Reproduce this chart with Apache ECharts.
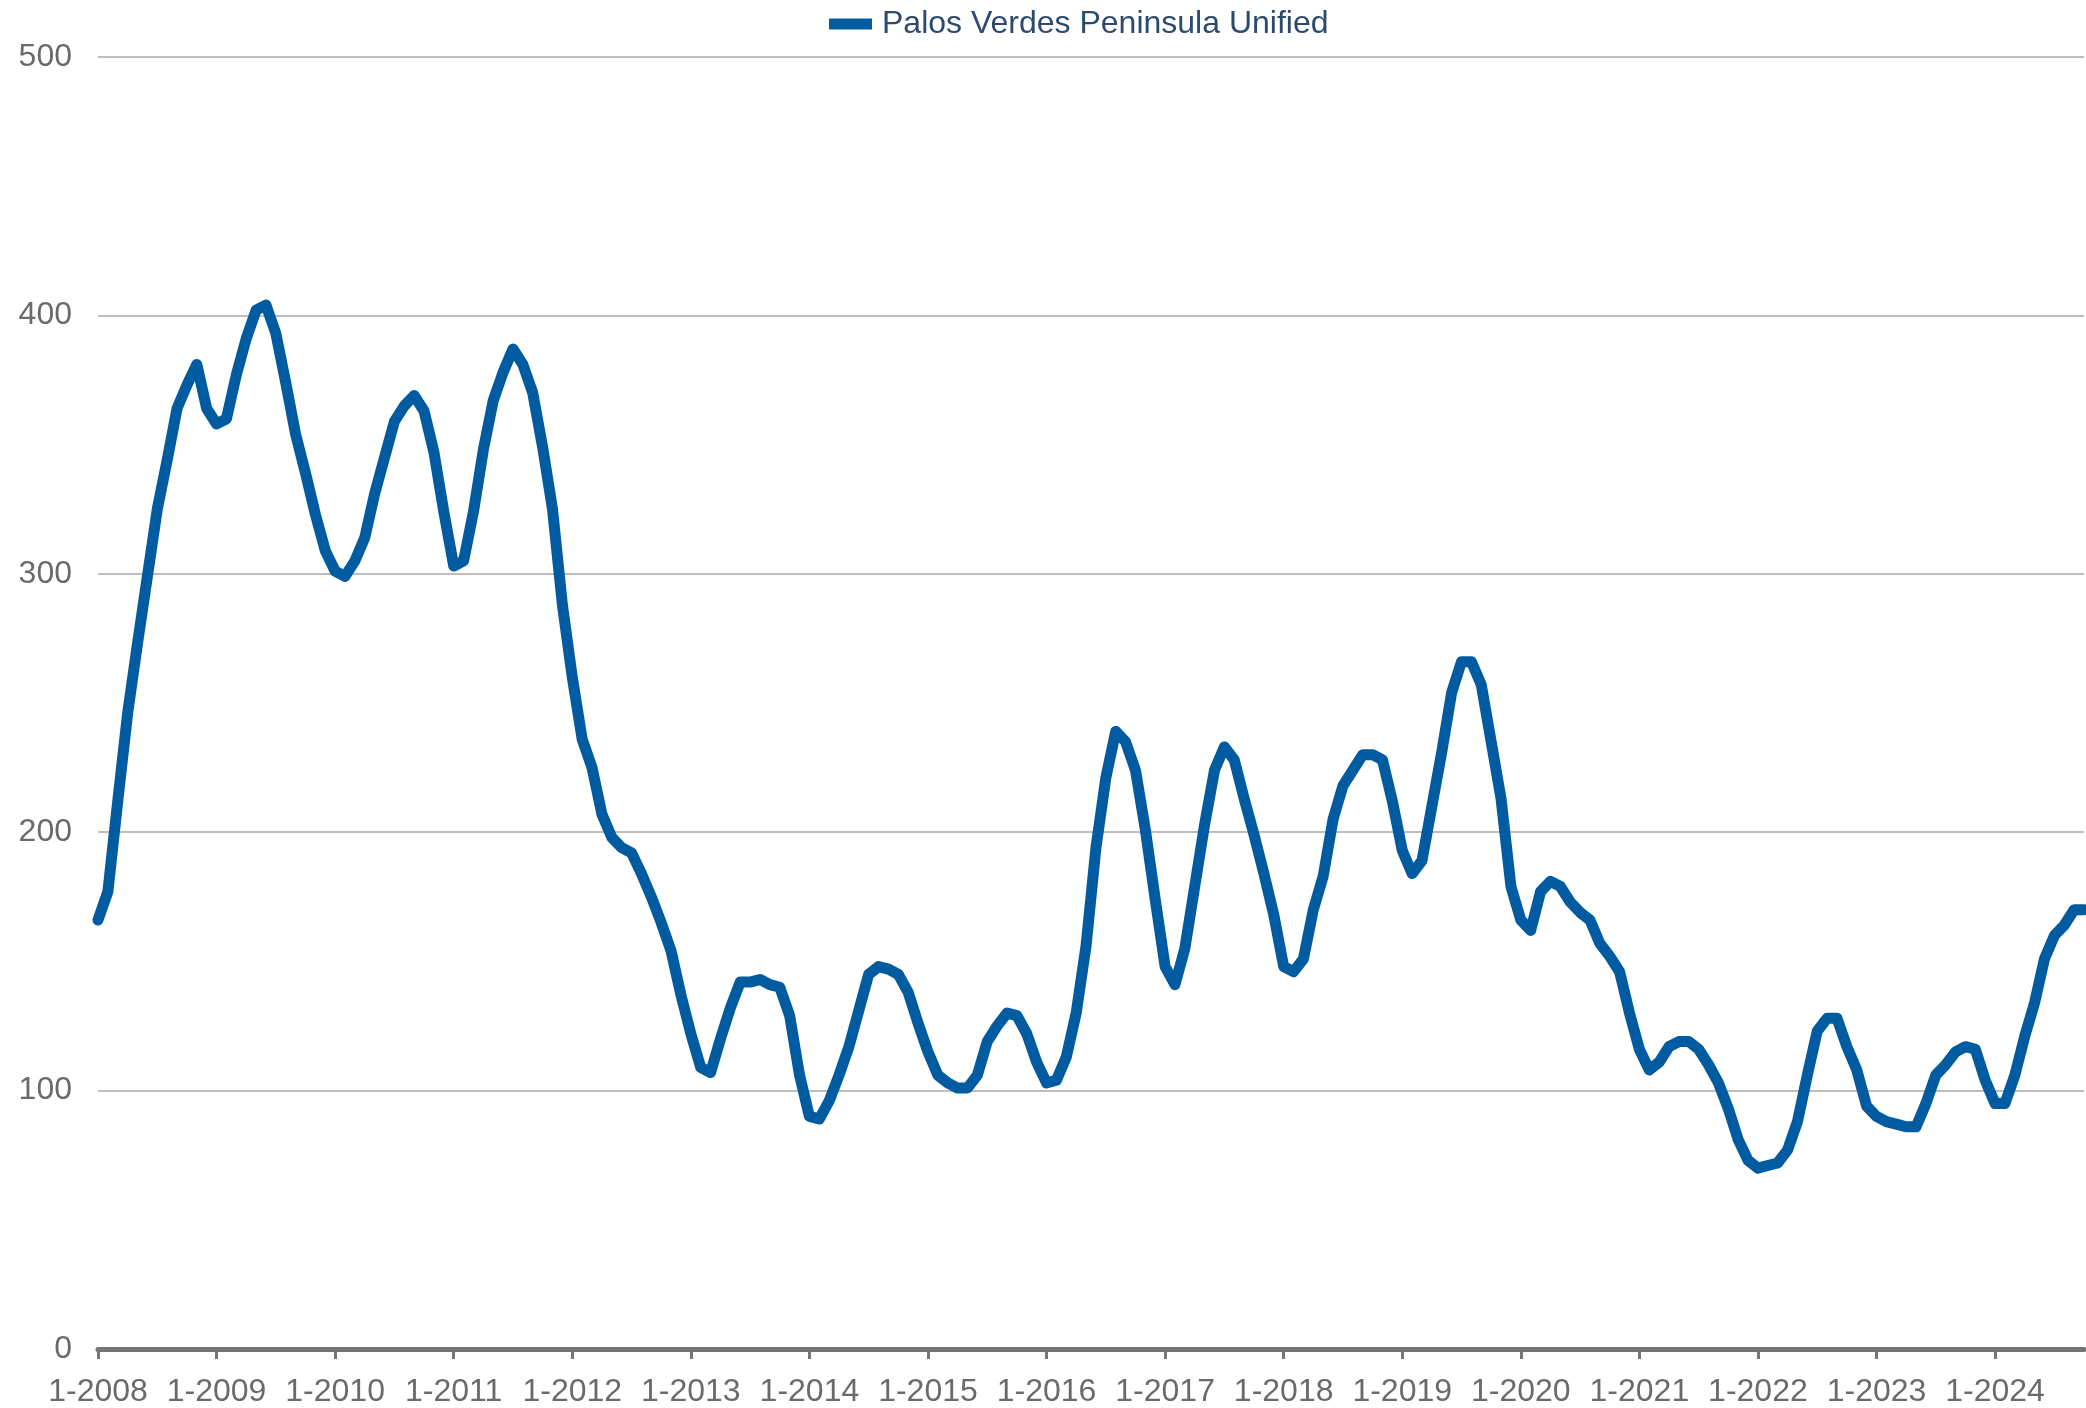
<!DOCTYPE html>
<html>
<head>
<meta charset="utf-8">
<script src="https://cdn.jsdelivr.net/npm/echarts@6/dist/echarts.min.js"></script>
<style>
  html, body { margin: 0; padding: 0; background: #ffffff; }
  #chart { width: 2086px; height: 1408px; }
</style>
</head>
<body>
<div id="chart"></div>
<script>
// Series name
const seriesName = 'Palos Verdes Peninsula Unified';

// Monthly categories from 1-2008 through 10-2024
const startYear = 2008;
const monthCount = 202;
const categories = [];
for (let i = 0; i < monthCount; i++) {
  categories.push((i % 12 + 1) + '-' + (startYear + Math.floor(i / 12)));
}

// Values, by year (Jan..Dec)
const v2008 = [166, 177, 212, 246, 273, 299, 325, 344, 364, 373, 381, 364];
const v2009 = [358, 360, 377, 391, 402, 404, 393, 374, 354, 339, 323, 309];
const v2010 = [301, 299, 305, 314, 331, 345, 359, 365, 369, 363, 347, 324];
const v2011 = [303, 305, 324, 348, 367, 378, 387, 381, 370, 349, 325, 288];
const v2012 = [260, 236, 225, 207, 198, 194, 192, 184, 175, 165, 154, 137];
const v2013 = [122, 109, 107, 120, 132, 142, 142, 143, 141, 140, 129, 106];
const v2014 = [90, 89, 96, 106, 117, 131, 145, 148, 147, 145, 138, 126];
const v2015 = [115, 106, 103, 101, 101, 106, 119, 125, 130, 129, 122, 111];
const v2016 = [103, 104, 113, 130, 156, 194, 221, 239, 235, 224, 201, 174];
const v2017 = [148, 141, 155, 179, 203, 224, 233, 228, 213, 199, 184, 168];
const v2018 = [148, 146, 151, 170, 183, 205, 218, 224, 230, 230, 228, 212];
const v2019 = [193, 184, 189, 210, 231, 254, 266, 266, 257, 235, 213, 179];
const v2020 = [166, 162, 177, 181, 179, 173, 169, 166, 157, 152, 146, 130];
const v2021 = [116, 108, 111, 117, 119, 119, 116, 110, 103, 93, 81, 73];
const v2022 = [70, 71, 72, 77, 88, 106, 123, 128, 128, 117, 108, 94];
const v2023 = [90, 88, 87, 86, 86, 95, 106, 110, 115, 117, 116, 104];
const v2024 = [95, 95, 106, 121, 134, 151, 160, 164, 170, 170];

const values = [].concat(v2008, v2009, v2010, v2011, v2012, v2013, v2014, v2015,
  v2016, v2017, v2018, v2019, v2020, v2021, v2022, v2023, v2024);

// Y axis ticks
const yMin = 0, yMax = 500, yStep = 100;

const fontFamily = '"Liberation Sans", Arial, Helvetica, sans-serif';
const lineColor = '#005BA1';

const chart = echarts.init(document.getElementById('chart'), null, { renderer: 'canvas' });
chart.setOption({
  animation: false,
  backgroundColor: '#ffffff',
  textStyle: { fontFamily: fontFamily },
  legend: {
    data: [seriesName],
    left: 824,
    top: 3,
    icon: 'rect',
    itemWidth: 43,
    itemHeight: 11,
    textStyle: {
      fontSize: 32,
      color: '#2C4A6E',
      fontFamily: fontFamily,
      padding: [0, 0, 0, 5]
    }
  },
  grid: {
    left: 98,
    right: 2,
    top: 57,
    bottom: 58,
    containLabel: false
  },
  xAxis: {
    type: 'category',
    data: categories,
    boundaryGap: false,
    axisLine: { show: true, lineStyle: { color: '#757575', width: 5 } },
    axisTick: {
      show: true,
      interval: function (idx) { return idx % 12 === 0; },
      length: 10,
      lineStyle: { color: '#757575', width: 3 }
    },
    axisLabel: {
      interval: function (idx) { return idx % 12 === 0; },
      fontSize: 32,
      color: '#6A6A6A',
      fontFamily: fontFamily,
      margin: 27
    },
    splitLine: { show: false }
  },
  yAxis: {
    type: 'value',
    min: yMin,
    max: yMax,
    interval: yStep,
    axisLine: { show: false },
    axisTick: { show: false },
    axisLabel: {
      fontSize: 32,
      color: '#6A6A6A',
      fontFamily: fontFamily,
      margin: 26
    },
    splitLine: { show: true, lineStyle: { color: '#BDBDBD', width: 2 } }
  },
  series: [{
    name: seriesName,
    type: 'line',
    data: values,
    showSymbol: false,
    symbol: 'none',
    smooth: false,
    clip: false,
    lineStyle: { color: lineColor, width: 11, cap: 'round', join: 'round' },
    itemStyle: { color: lineColor }
  }]
});
</script>
</body>
</html>
